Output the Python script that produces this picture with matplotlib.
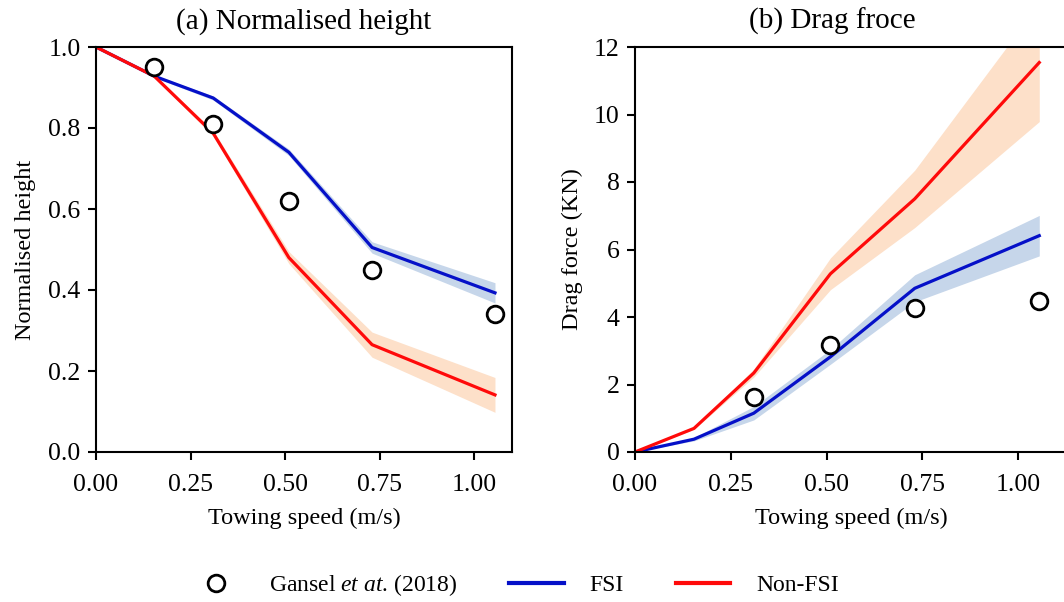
import numpy as np
import matplotlib.pyplot as plt
from matplotlib.lines import Line2D

plt.rcParams['font.family'] = ['Liberation Serif', 'DejaVu Serif']
plt.rcParams['mathtext.fontset'] = 'custom'
plt.rcParams['mathtext.it'] = 'Liberation Serif:italic'
plt.rcParams['mathtext.rm'] = 'Liberation Serif'

# towing speeds (m/s)
speed = [0.0, 0.154, 0.31, 0.51, 0.73, 1.055]

# (a) normalised height
exp_height_x = [0.154, 0.31, 0.51, 0.73, 1.055]
exp_height = [0.95, 0.81, 0.62, 0.45, 0.34]
fsi_height = [1.0, 0.928, 0.874, 0.740, 0.505, 0.393]
fsi_height_err = [0.0, 0.003, 0.005, 0.008, 0.014, 0.025]
nonfsi_height = [1.0, 0.928, 0.787, 0.480, 0.265, 0.141]
nonfsi_height_err = [0.0, 0.003, 0.007, 0.015, 0.031, 0.043]

# (b) drag force (KN)
exp_drag_x = [0.31, 0.51, 0.73, 1.055]
exp_drag = [1.63, 3.17, 4.27, 4.48]
fsi_drag = [0.0, 0.38, 1.15, 2.82, 4.85, 6.41]
fsi_drag_err = [0.0, 0.05, 0.2, 0.22, 0.4, 0.6]
nonfsi_drag = [0.0, 0.70, 2.34, 5.28, 7.5, 11.54]
nonfsi_drag_err = [0.0, 0.03, 0.12, 0.47, 0.85, 1.75]

blue = '#0510c8'
red = '#ff0a0a'
blue_band = '#c6d6ea'
red_band = '#fde0c9'

fig = plt.figure(figsize=(10.64, 6.02), dpi=100)
ax1 = fig.add_axes([96 / 1064, 150 / 602, 416 / 1064, 405 / 602])
ax2 = fig.add_axes([635 / 1064, 150 / 602, 433 / 1064, 405 / 602])

x = np.array(speed)


def panel(ax, fsi, fsi_err, non, non_err, ex_x, ex_y):
    fsi, fsi_err = np.array(fsi), np.array(fsi_err)
    non, non_err = np.array(non), np.array(non_err)
    ax.fill_between(x, fsi - fsi_err, fsi + fsi_err, color=blue_band, lw=0)
    ax.fill_between(x, non - non_err, non + non_err, color=red_band, lw=0)
    ax.plot(x, fsi, color=blue, lw=2.3)
    ax.plot(x, non, color=red, lw=2.3)
    ax.plot(ex_x, ex_y, 'o', ms=12, mfc='white', mec='black', mew=2, clip_on=False)
    ax.set_xticks([0, 0.25, 0.5, 0.75, 1.0])
    ax.set_xticklabels(['0.00', '0.25', '0.50', '0.75', '1.00'])
    ax.set_xlabel('Towing speed (m/s)', fontsize=17.5, labelpad=8)
    ax.tick_params(labelsize=18.5, width=1.5, length=6, pad=5)
    ax.tick_params(axis='x', pad=10)
    for s in ax.spines.values():
        s.set_linewidth(1.5)


panel(ax1, fsi_height, fsi_height_err, nonfsi_height, nonfsi_height_err,
      exp_height_x, exp_height)
ax1.set_xlim(0, 1.1)
ax1.set_ylim(0, 1.0)
ax1.set_yticks([0, 0.2, 0.4, 0.6, 0.8, 1.0])
ax1.set_ylabel('Normalised height', fontsize=17.5, labelpad=9)
ax1.set_title('(a) Normalised height', fontsize=21, pad=13)

panel(ax2, fsi_drag, fsi_drag_err, nonfsi_drag, nonfsi_drag_err,
      exp_drag_x, exp_drag)
ax2.set_xlim(0, 1.13)
ax2.set_ylim(0, 12)
ax2.set_yticks([0, 2, 4, 6, 8, 10, 12])
ax2.set_ylabel('Drag force (KN)', fontsize=17.5, labelpad=8)
ax2.set_title('(b) Drag froce', fontsize=21, pad=13, x=0.455)

handles = [
    Line2D([], [], ls='none', marker='o', ms=12, mfc='white', mec='black', mew=2),
    Line2D([], [], color=blue, lw=3),
    Line2D([], [], color=red, lw=3),
]
labels = [r'Gansel $\it{et\ at}$. (2018)', 'FSI', 'Non-FSI']
fig.legend(handles, labels, loc='center', bbox_to_anchor=(0.483, 0.028), ncol=3,
           frameon=False, fontsize=17, handlelength=2.3, columnspacing=2.2,
           handletextpad=1.1)

fig.savefig('out.png', dpi=100)
